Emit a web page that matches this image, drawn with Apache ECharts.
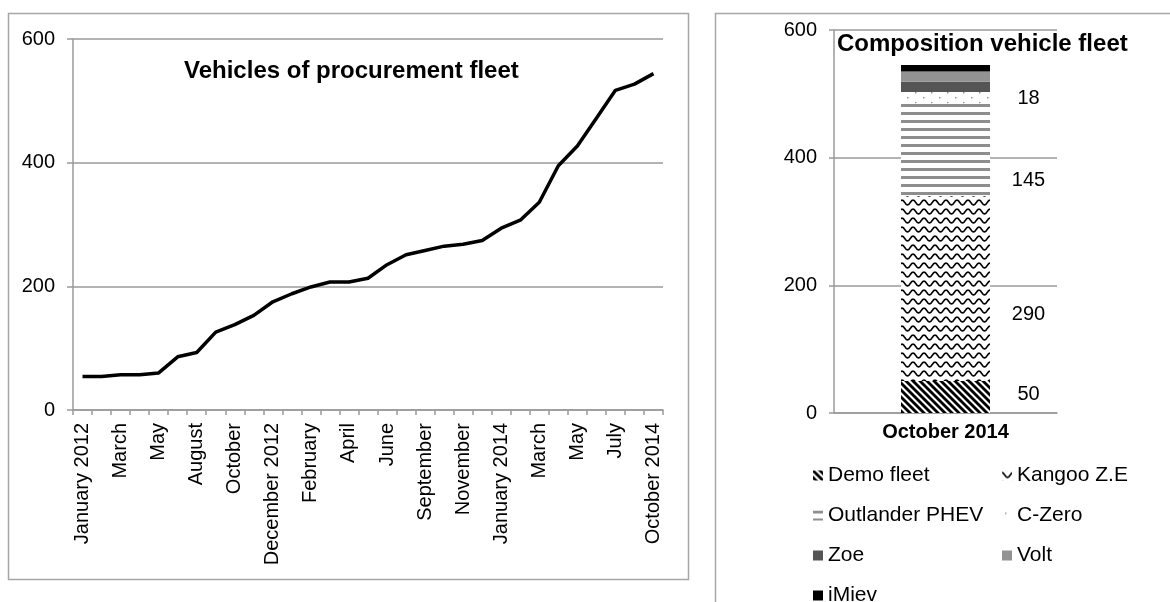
<!DOCTYPE html>
<html>
<head>
<meta charset="utf-8">
<script src="https://cdn.jsdelivr.net/npm/echarts@6/dist/echarts.min.js"></script>
<style>
html,body{margin:0;padding:0;background:#fff;}
#chart{width:1170px;height:602px;}
</style>
</head>
<body>
<div id="chart"></div>
<script>
// ---- data ----
const months = ['January 2012','February','March','April','May','June','August','September','October','November',
  'December 2012','January 2013','February','March','April','May','June','August','September','October',
  'November','December','January 2014','February','March','April','May','June','July','September','October 2014'];
const fleetTotals = [54,54,57,57,60,86,93,126,138,153,175,188,199,207,207,213,235,251,258,265,268,274,294,307,336,395,427,472,517,527,544];
const yTicks = [0,200,400,600];
const compCategory = ['October 2014'];
const demoFleet = [50];
const kangoo = [290];
const outlander = [145];
const cZero = [18];
const zoe = [16];
const volt = [16];
const iMiev = [10];

// ---- patterns (styles) ----
function makePattern(w,h,draw){
  const c=document.createElement('canvas');c.width=w;c.height=h;
  const g=c.getContext('2d');g.fillStyle='#fff';g.fillRect(0,0,w,h);draw(g);
  return {image:c,repeat:'repeat'};
}
const demoPat = makePattern(7,7,g=>{
  g.strokeStyle='#000';g.lineWidth=2.8;
  for(let k=-1;k<=1;k++){g.beginPath();g.moveTo(k*7-1,-1);g.lineTo(k*7+8,8);g.stroke();}
});
const kangooPat = makePattern(11,9,g=>{
  g.strokeStyle='#000';g.lineWidth=1.6;g.beginPath();
  for(let x=0;x<=11;x+=0.5){const y=4.5-2.4*Math.cos(2*Math.PI*x/11);if(x===0)g.moveTo(x,y);else g.lineTo(x,y);}
  g.stroke();
});
const outPat = makePattern(4,8,g=>{g.fillStyle='#8e8e8e';g.fillRect(0,0,4,3);});
const czPat = makePattern(16,10,g=>{g.fillStyle='#999';g.fillRect(3,2,1.5,1.5);g.fillRect(11,7,1.5,1.5);});

const FONT = 'Liberation Sans, Arial, sans-serif';
const grey = '#9a9a9a';

const chart = echarts.init(document.getElementById('chart'),null,{renderer:'canvas'});

function barSeries(name,data,color,label){
  const s={name,type:'bar',stack:'comp',xAxisIndex:1,yAxisIndex:1,barWidth:89,data,
    itemStyle:{color:color},emphasis:{disabled:true}};
  if(label){s.label={show:true,position:'inside',offset:label,color:'#000',fontSize:20,fontFamily:FONT};}
  return s;
}

chart.setOption({
  animation:false,
  backgroundColor:'#fff',
  textStyle:{fontFamily:FONT},
  title:[
    {text:'Vehicles of procurement fleet',left:184,top:59,padding:0,
     textStyle:{fontSize:24,fontWeight:'bold',color:'#000',fontFamily:FONT}},
    {text:'Composition vehicle fleet',left:837,top:32,padding:0,
     textStyle:{fontSize:24,fontWeight:'bold',color:'#000',fontFamily:FONT}}
  ],
  graphic:[
    {type:'rect',shape:{x:8.5,y:13.5,width:680,height:566},style:{fill:null,stroke:'#a6a6a6',lineWidth:1.5},silent:true,z:-10},
    {type:'polyline',shape:{points:[[715.5,610],[715.5,13.5],[1175,13.5]]},style:{fill:null,stroke:'#a6a6a6',lineWidth:1.5},silent:true,z:-10}
  ],
  legend:{
    left:808,top:453,width:380,orient:'horizontal',itemWidth:10,itemHeight:10,itemGap:5,
    icon:'rect',
    textStyle:{fontSize:21,color:'#000',fontFamily:FONT,width:169,lineHeight:35},
    data:['Demo fleet','Kangoo Z.E','Outlander PHEV','C-Zero','Zoe','Volt','iMiev']
  },
  grid:[
    {left:73,top:39,width:590,height:371,containLabel:false},
    {left:834,top:30,width:223,height:383,containLabel:false}
  ],
  xAxis:[
    {type:'category',gridIndex:0,data:months,boundaryGap:true,
     axisLine:{show:true,lineStyle:{color:grey,width:1.5}},
     axisTick:{show:true,interval:0,length:5,lineStyle:{color:grey,width:1.5}},
     axisLabel:{interval:1,rotate:90,margin:13,fontSize:20,color:'#000',fontFamily:FONT},
     splitLine:{show:false}},
    {type:'category',gridIndex:1,data:compCategory,
     axisLine:{show:true,lineStyle:{color:grey,width:1.5}},
     axisTick:{show:false},
     axisLabel:{margin:9,fontSize:20,fontWeight:'bold',color:'#000',fontFamily:FONT}}
  ],
  yAxis:[
    {type:'value',gridIndex:0,min:0,max:600,interval:200,
     axisLine:{show:true,lineStyle:{color:grey,width:1.5}},
     axisTick:{show:true,length:6,lineStyle:{color:grey,width:1.5}},
     axisLabel:{margin:18,fontSize:20,color:'#000',fontFamily:FONT},
     splitLine:{show:true,lineStyle:{color:grey,width:1.5}}},
    {type:'value',gridIndex:1,min:0,max:600,interval:200,
     axisLine:{show:true,lineStyle:{color:grey,width:1.5}},
     axisTick:{show:true,length:5,lineStyle:{color:grey,width:1.5}},
     axisLabel:{margin:17,fontSize:20,color:'#000',fontFamily:FONT},
     splitLine:{show:true,lineStyle:{color:grey,width:1.5}}}
  ],
  series:[
    {name:'Vehicles',type:'line',xAxisIndex:0,yAxisIndex:0,data:fleetTotals,symbol:'none',
     lineStyle:{color:'#000',width:3.5,join:'round'},itemStyle:{color:'#000'},emphasis:{disabled:true}},
    barSeries('Demo fleet',demoFleet,demoPat,[83,-3]),
    barSeries('Kangoo Z.E',kangoo,kangooPat,[83,26]),
    barSeries('Outlander PHEV',outlander,outPat,[83,31]),
    barSeries('C-Zero',cZero,czPat,[83,1]),
    barSeries('Zoe',zoe,'#555555',null),
    barSeries('Volt',volt,'#939393',null),
    barSeries('iMiev',iMiev,'#000000',null)
  ]
});
</script>
</body>
</html>
